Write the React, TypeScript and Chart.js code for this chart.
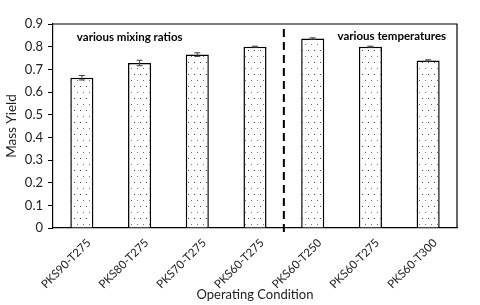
import React, { useEffect, useRef } from "react";
import { Chart, registerables } from "chart.js";

Chart.register(...registerables);

const categories = ["PKS90-T275", "PKS80-T275", "PKS70-T275", "PKS60-T275", "PKS60-T250", "PKS60-T275", "PKS60-T300"];
const massYield = [0.663, 0.728, 0.765, 0.8, 0.836, 0.8, 0.739];
const errors = [0.01, 0.012, 0.008, 0.002, 0.003, 0.002, 0.003];
const yTicks = [0, 0.1, 0.2, 0.3, 0.4, 0.5, 0.6, 0.7, 0.8, 0.9];
const notes = [
  { text: "various mixing ratios", x: 0.83, y: 0.84 },
  { text: "various temperatures", x: 5.37, y: 0.845 },
];
const dividerAt = 3.5;

const FONT = "Lato, 'Open Sans', sans-serif";

function makePattern(): CanvasPattern | string {
  const c = document.createElement("canvas");
  c.width = 12;
  c.height = 12;
  const ctx = c.getContext("2d");
  if (!ctx) return "#fff";
  ctx.fillStyle = "#ffffff";
  ctx.fillRect(0, 0, 12, 12);
  ctx.fillStyle = "#444";
  ctx.fillRect(2, 2, 1, 1);
  ctx.fillRect(8, 2, 1, 1);
  ctx.fillStyle = "#777";
  ctx.fillRect(5, 8, 1, 1);
  ctx.fillRect(11, 8, 1, 1);
  const p = ctx.createPattern(c, "repeat");
  return p || "#fff";
}

const extras = {
  id: "extras",
  afterDatasetsDraw(chart: any) {
    const { ctx, chartArea, scales } = chart;
    const x = scales.x;
    const y = scales.y;
    ctx.save();
    ctx.strokeStyle = "#000";
    ctx.lineWidth = 1.2;
    ctx.beginPath();
    ctx.moveTo(chartArea.left, chartArea.top);
    ctx.lineTo(chartArea.right, chartArea.top);
    ctx.lineTo(chartArea.right, chartArea.bottom);
    ctx.stroke();
    ctx.strokeStyle = "#444";
    ctx.lineWidth = 1;
    massYield.forEach((v, i) => {
      const px = x.getPixelForValue(i);
      const y1 = y.getPixelForValue(v + errors[i]);
      const y2 = y.getPixelForValue(v - errors[i]);
      ctx.beginPath();
      ctx.moveTo(px, y1);
      ctx.lineTo(px, y2);
      ctx.moveTo(px - 3, y1);
      ctx.lineTo(px + 3, y1);
      ctx.moveTo(px - 3, y2);
      ctx.lineTo(px + 3, y2);
      ctx.stroke();
    });
    const dx = (x.getPixelForValue(Math.floor(dividerAt)) + x.getPixelForValue(Math.ceil(dividerAt))) / 2;
    ctx.strokeStyle = "#000";
    ctx.lineWidth = 2;
    ctx.setLineDash([8, 5]);
    ctx.beginPath();
    ctx.moveTo(dx, chartArea.top + 5);
    ctx.lineTo(dx, chartArea.bottom + 4);
    ctx.stroke();
    ctx.setLineDash([]);
    ctx.fillStyle = "#000";
    ctx.font = `bold 11.5px ${FONT}`;
    ctx.textAlign = "center";
    ctx.textBaseline = "middle";
    notes.forEach((n) => {
      const px = x.left + ((n.x + 0.5) / categories.length) * (x.right - x.left);
      ctx.fillText(n.text, px, y.getPixelForValue(n.y));
    });
    ctx.restore();
  },
};

export default function App() {
  const ref = useRef<HTMLCanvasElement>(null);
  useEffect(() => {
    if (!ref.current) return;
    const chart = new Chart(ref.current, {
      type: "bar",
      data: {
        labels: categories,
        datasets: [
          {
            data: massYield,
            backgroundColor: makePattern() as any,
            borderColor: "#000",
            borderWidth: 1.5,
            categoryPercentage: 1,
            barPercentage: 0.4,
          },
        ],
      },
      options: {
        animation: false,
        responsive: false,
        maintainAspectRatio: false,
        layout: { padding: { top: 24, right: 23, left: 4, bottom: 0 } },
        plugins: { legend: { display: false }, tooltip: { enabled: false } },
        scales: {
          x: {
            grid: { display: false },
            border: { color: "#000", width: 1.2 },
            ticks: {
              color: "#222",
              font: { family: FONT, size: 11.5 },
              minRotation: 45,
              maxRotation: 45,
              padding: 0,
              labelOffset: 7,
            },
            title: {
              display: true,
              text: "Operating Condition",
              color: "#222",
              font: { family: FONT, size: 13 },
              padding: { top: 0, bottom: 2 },
            },
            afterFit(s: any) {
              s.height = 77;
            },
          },
          y: {
            min: 0,
            max: 0.9,
            afterBuildTicks(s: any) {
              s.ticks = yTicks.map((v) => ({ value: v }));
            },
            grid: { display: true, drawOnChartArea: false, tickLength: 5, color: "#000" },
            border: { color: "#000", width: 1.2 },
            ticks: {
              color: "#222",
              font: { family: FONT, size: 13 },
              padding: 5,
              callback: (v: any) => String(Number(v)),
            },
            title: {
              display: true,
              text: "Mass Yield",
              color: "#222",
              font: { family: FONT, size: 13.5 },
              padding: { top: 0, bottom: 4 },
            },
            afterFit(s: any) {
              s.width = 49;
            },
          },
        },
      },
      plugins: [extras],
    });
    return () => chart.destroy();
  }, []);
  return (
    <div style={{ position: "absolute", left: 0, top: 0, width: 480, height: 305, background: "#fff" }}>
      <canvas ref={ref} width={480} height={305} />
    </div>
  );
}
